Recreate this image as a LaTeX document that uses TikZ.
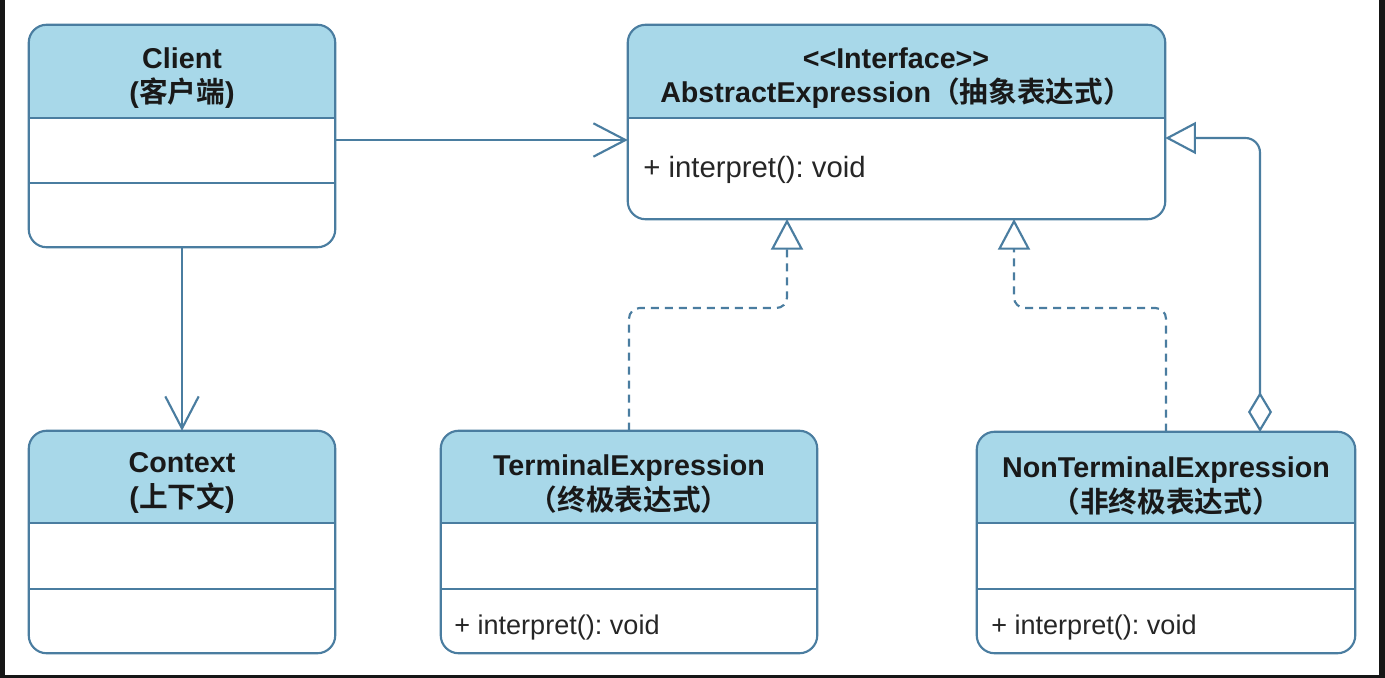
\documentclass[tikz,border=0pt]{standalone}
\usepackage{fontspec}
\setmainfont{Liberation Sans}
\newfontfamily\cjk{Noto Sans CJK SC}[BoldFont={Noto Sans CJK SC Bold}]
\usetikzlibrary{arrows.meta,fit}
\definecolor{umlstroke}{RGB}{74,125,160}
\definecolor{umlfill}{RGB}{168,216,233}
\definecolor{frameblack}{RGB}{22,22,22}
\frenchspacing
\newcommand\umlclass[6]{% name, x1, y1, x2, y2, header bottom
  \node[fit={(#2,#3) (#4,#5)},inner sep=0pt] (#1) {};
  \begin{scope}
    \clip (#2-5,#3-5) rectangle (#4+5,#6);
    \fill[umlfill,rounded corners=13.5pt] (#2,#3) rectangle (#4,#5);
  \end{scope}
  \draw[sepline] (#2,#6) -- (#4,#6);
}
\begin{document}
\begin{tikzpicture}[x=0.75pt,y=-0.75pt,
  boxline/.style={draw=umlstroke,line width=1.6pt,rounded corners=13.5pt},
  sepline/.style={draw=umlstroke,line width=1.5pt},
  ttl/.style={font=\bfseries\fontsize{21.5pt}{26pt}\selectfont,align=center,text=black!90,inner sep=0pt},
  member/.style={font=\fontsize{20.3pt}{24pt}\selectfont,anchor=west,inner sep=0pt,text=black!85},
  conn/.style={draw=umlstroke,line width=1.6pt},
  assoc/.style={conn,-{Straight Barb[length=24pt,width=25pt]}},
  realize/.style={conn,dash pattern=on 6pt off 4.5pt,rounded corners=8pt,-{Triangle[open,length=23pt,width=24pt,fill=white]}},
  aggr/.style={conn,rounded corners=11pt,{Diamond[open,length=30pt,width=18pt,fill=white]}-{Triangle[open,length=23pt,width=24pt,fill=white]}}
]
\useasboundingbox (0,0) rectangle (1385,678);
\fill[white] (0,0) rectangle (1385,678);
\fill[frameblack] (0,0) rectangle (5,678);
\fill[frameblack] (1379,0) rectangle (1385,678);
\fill[frameblack] (0,675) rectangle (1385,678);

% classes
\umlclass{client}{29}{25}{335}{247}{118}
\draw[sepline] (29,183) -- (335,183);
\draw[boxline] (client.north west) rectangle (client.south east);
\node[ttl] (client-t) at (182,78) {Client\\({\cjk 客户端})};

\umlclass{context}{29}{431}{335}{653}{523}
\draw[sepline] (29,589) -- (335,589);
\draw[boxline] (context.north west) rectangle (context.south east);
\node[ttl] (context-t) at (182,483) {Context\\({\cjk 上下文})};

\umlclass{abstract}{628}{25}{1165}{219}{118}
\draw[boxline] (abstract.north west) rectangle (abstract.south east);
\node[ttl] (abstract-t) at (896,78) {<\kern0pt<Interface>\kern0pt>\\AbstractExpression{\cjk （抽象表达式）}};
\node[member,font=\fontsize{22pt}{25pt}\selectfont] (abstract-m) at (643,170) {+ interpret(): void};

\umlclass{terminal}{441}{431}{817}{653}{523}
\draw[sepline] (441,589) -- (817,589);
\draw[boxline] (terminal.north west) rectangle (terminal.south east);
\node[ttl] (terminal-t) at (629,484) {TerminalExpression\\{\cjk （终极表达式）}};
\node[member] (terminal-m) at (454,627) {+ interpret(): void};

\umlclass{nonterm}{977}{432}{1355}{653}{523}
\draw[sepline] (977,589) -- (1355,589);
\draw[boxline] (nonterm.north west) rectangle (nonterm.south east);
\node[ttl] (nonterm-t) at (1166,486) {NonTerminalExpression\\{\cjk （非终极表达式）}};
\node[member] (nonterm-m) at (991,627) {+ interpret(): void};

% connectors
\coordinate (a1) at (787,219);
\coordinate (a2) at (1014,219);
\coordinate (g1) at (1260,432);
\draw[assoc] ([yshift=-3pt]client.east) -- ([yshift=-3pt]client.east -| abstract.west);
\draw[assoc] (client.south) -- (context.north);
\draw[realize] (terminal.north) |- (787,308) -- (a1);
\draw[realize] (nonterm.north) |- (1014,308) -- (a2);
\draw[aggr] (g1) |- ([yshift=-12pt]abstract.east);
\end{tikzpicture}
\end{document}
